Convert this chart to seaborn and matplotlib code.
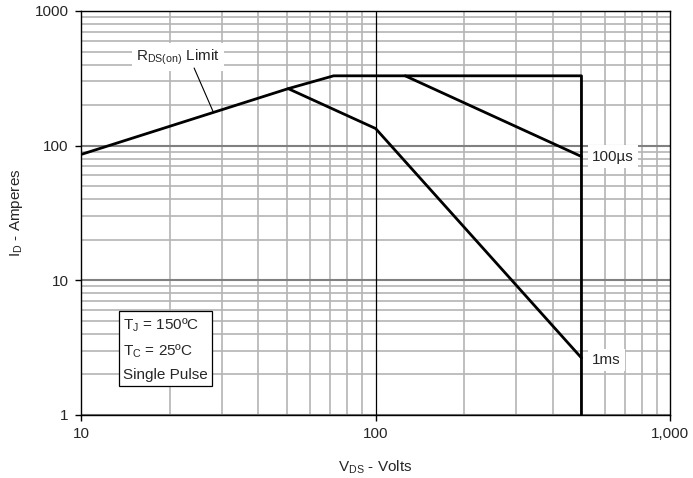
import matplotlib
matplotlib.use('Agg')
import matplotlib.pyplot as plt
import matplotlib.ticker as mticker
import seaborn as sns
import pandas as pd

# 安全工作區曲線 (讀自圖片)
rds_v = [10, 50.5, 72, 500, 500]
rds_i = [86, 265, 330, 330, 1]
us100_v = [126, 500]
us100_i = [330, 83]
ms1_v = [50.5, 100, 500]
ms1_i = [265, 134, 2.65]

x_ticks = [10, 100, 1000]
x_labels = ['10', '100', '1,000']
y_ticks = [1, 10, 100, 1000]
y_labels = ['1', '10', '100', '1000']

sns.set_theme(style='white')
plt.rcParams['font.family'] = ['Liberation Sans', 'DejaVu Sans']
plt.rcParams['mathtext.fontset'] = 'custom'
plt.rcParams['mathtext.rm'] = 'Liberation Sans'

fig = plt.figure(figsize=(6.93, 4.78), dpi=100)
ax = fig.add_axes([0.117, 0.132, 0.85, 0.845])

curves = [(rds_v, rds_i), (us100_v, us100_i), (ms1_v, ms1_i)]
for v, i in curves:
    df = pd.DataFrame({'v': v, 'i': i})
    sns.lineplot(data=df, x='v', y='i', ax=ax, sort=False, estimator=None,
                 color='black', linewidth=2, zorder=5)

ax.set_xscale('log')
ax.set_yscale('log')
ax.set_xlim(10, 1000)
ax.set_ylim(1, 1000)

ax.xaxis.set_minor_locator(mticker.LogLocator(base=10, subs=range(2, 10)))
ax.yaxis.set_minor_locator(mticker.LogLocator(base=10, subs=range(2, 10)))
ax.xaxis.set_minor_formatter(mticker.NullFormatter())
ax.yaxis.set_minor_formatter(mticker.NullFormatter())
ax.set_xticks(x_ticks)
ax.set_xticklabels(x_labels)
ax.set_yticks(y_ticks)
ax.set_yticklabels(y_labels)

# 格線
ax.grid(which='minor', color='#b4b4b4', linewidth=1.2)
ax.grid(which='major', axis='y', color='#808080', linewidth=1.5)
ax.axvline(100, color='black', linewidth=0.9, zorder=3)
ax.set_axisbelow(True)

ax.tick_params(which='major', direction='out', length=4, width=1, color='black',
               labelsize=11, left=True, bottom=True, pad=5)
ax.tick_params(which='minor', length=0)
for s in ax.spines.values():
    s.set_color('black')
    s.set_linewidth(1)

ax.set_xlabel(r'V$_{\mathregular{DS}}$ - Volts', fontsize=11, labelpad=12)
ax.set_ylabel(r'I$_{\mathregular{D}}$ - Amperes', fontsize=11, labelpad=7)

# 標註
ax.text(21.3, 455, r'R$_{\mathregular{DS(on)}}$ Limit', fontsize=11, ha='center', va='center',
        bbox=dict(facecolor='white', edgecolor='none', pad=3), zorder=6)
ax.plot([24.2, 28.1], [377, 178], color='black', linewidth=0.8, zorder=6)
ax.text(543, 83, '100µs', fontsize=11, ha='left', va='center',
        bbox=dict(facecolor='white', edgecolor='none', pad=3), zorder=6)
ax.text(543, 2.56, '1ms', fontsize=11, ha='left', va='center',
        bbox=dict(facecolor='white', edgecolor='none', pad=3), zorder=6)
ax.text(0.071, 0.163, 'T$_{\\mathregular{J}}$ = 150ºC\nT$_{\\mathregular{C}}$ = 25ºC\nSingle Pulse',
        transform=ax.transAxes, fontsize=11, ha='left', va='center', linespacing=1.65,
        bbox=dict(facecolor='white', edgecolor='black', linewidth=0.9, pad=3), zorder=6)

fig.savefig('out.png', dpi=100)
plt.close(fig)
